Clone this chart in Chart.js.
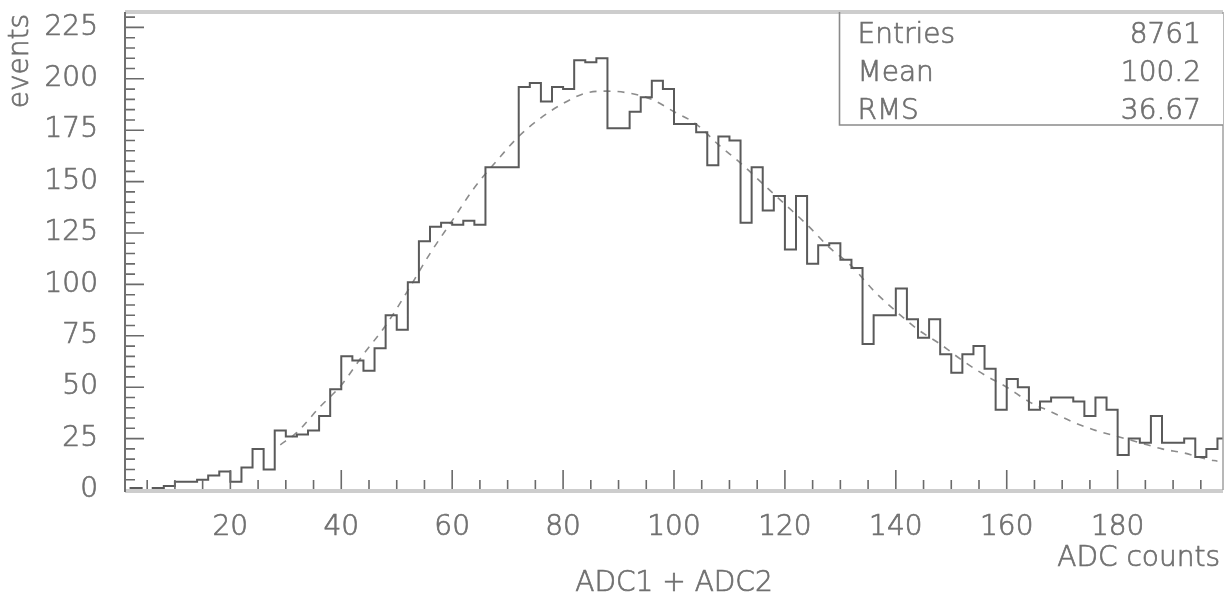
<!DOCTYPE html>
<html>
<head>
<meta charset="utf-8">
<script src="https://cdn.jsdelivr.net/npm/chart.js@4/dist/chart.umd.min.js"></script>
<style>
  html, body { margin: 0; padding: 0; background: #ffffff; }
  #c { display: block; }
</style>
</head>
<body>
<canvas id="c" width="1228" height="596"></canvas>
<script>
// Histogram binning: 100 bins of width 2 starting at 0
const binStart = 0;
const binWidth = 2;

// Events per bin (ADC1 + ADC2)
const binCounts = [
  0, 1, 0, 1, 2, 4, 4, 5, 7, 9,
  4, 11, 20, 10, 29, 26, 27, 29, 36, 49,
  65, 63, 58, 69, 85, 78, 101, 121, 128, 130,
  129, 131, 129, 157, 157, 157, 196, 198, 189, 196,
  195, 209, 208, 210, 176, 176, 184, 191, 199, 195,
  178, 178, 174, 158, 172, 170, 130, 157, 136, 143,
  117, 143, 110, 119, 120, 112, 108, 71, 85, 85,
  98, 83, 74, 83, 66, 57, 66, 70, 59, 39,
  54, 50, 39, 43, 45, 45, 43, 36, 45, 39,
  17, 25, 23, 36, 23, 23, 25, 16, 20, 25
];

// Fitted curve, sampled points
const fitX = [29, 32, 36, 40, 44, 48, 52, 56, 60, 64, 68, 72, 76, 80, 84, 88, 92, 96, 100,
              104, 108, 112, 116, 120, 124, 128, 132, 136, 140, 144, 148, 152, 156, 160,
              164, 168, 172, 176, 180, 184, 188, 192, 196, 198];
const fitY = [22, 28, 40, 51, 66, 80, 97, 115, 131, 147, 160, 172, 181, 188, 193, 194, 193, 190, 184,
              178, 168, 159, 149, 139, 129, 118, 109, 97, 87, 78, 71, 63, 56, 50,
              43, 38, 33, 29, 26, 23, 20, 18, 15, 14];

// Axis ticks
const xTickLabels = [20, 40, 60, 80, 100, 120, 140, 160, 180];
const yTickLabels = [0, 25, 50, 75, 100, 125, 150, 175, 200, 225];

// Statistics box
const statNames = ['Entries', 'Mean', 'RMS'];
const statValues = ['8761', '100.2', '36.67'];

const xRange = [1, 199];
const yRange = [0, 232.5];

const FONT = '"DejaVu Sans", "Liberation Sans", sans-serif';
const WEIGHT = 300;
const SIZE = 28;
const TEXT = '#707070';
const TEXT_STROKE = 0.7;

const histPoints = binCounts.map((v, i) => ({ x: binStart + binWidth * (i + 0.5), y: v }));
const fitPoints = fitX.map((x, i) => ({ x: x, y: fitY[i] }));

function label(ctx, str, px, py) {
  ctx.fillText(str, px, py);
  ctx.strokeText(str, px, py);
}

// Frame, inward tick marks, axis titles and statistics box
const decorations = {
  id: 'decorations',
  afterDatasetsDraw(chart) {
    const { ctx, chartArea: a, scales: { x, y } } = chart;
    ctx.save();

    // inward ticks on x axis
    ctx.strokeStyle = '#6a6a6a';
    ctx.lineWidth = 1.6;
    ctx.beginPath();
    for (let v = 5; v < xRange[1]; v += 5) {
      const px = x.getPixelForValue(v);
      const len = (v % 20 === 0) ? 20 : 10;
      ctx.moveTo(px, a.bottom);
      ctx.lineTo(px, a.bottom - len);
    }
    // inward ticks on y axis
    for (let v = 5; v < yRange[1]; v += 5) {
      const py = y.getPixelForValue(v);
      const len = (v % 25 === 0) ? 19 : 10;
      ctx.moveTo(a.left, py);
      ctx.lineTo(a.left + len, py);
    }
    ctx.stroke();

    // frame
    ctx.strokeStyle = '#cdcdcd';
    ctx.lineWidth = 4;
    ctx.beginPath();
    ctx.moveTo(a.left, a.top); ctx.lineTo(a.right, a.top);
    ctx.moveTo(a.left, a.bottom + 1); ctx.lineTo(a.right, a.bottom + 1);
    ctx.stroke();
    ctx.strokeStyle = '#a0a0a0';
    ctx.lineWidth = 1.5;
    ctx.beginPath();
    ctx.moveTo(a.right, a.top); ctx.lineTo(a.right, a.bottom);
    ctx.stroke();
    ctx.strokeStyle = '#707070';
    ctx.lineWidth = 2;
    ctx.beginPath();
    ctx.moveTo(a.left, a.top); ctx.lineTo(a.left, a.bottom + 2);
    ctx.stroke();

    // statistics box
    const bx = 839.5, by = a.top, bw = a.right - 839.5, bh = 113;
    ctx.fillStyle = '#ffffff';
    ctx.fillRect(bx, by + 2, bw, bh - 2);
    ctx.strokeStyle = '#8a8a8a';
    ctx.lineWidth = 1.6;
    ctx.beginPath();
    ctx.moveTo(bx, by); ctx.lineTo(bx, by + bh); ctx.lineTo(bx + bw, by + bh);
    ctx.stroke();

    ctx.fillStyle = TEXT;
    ctx.strokeStyle = TEXT;
    ctx.lineWidth = TEXT_STROKE;
    ctx.font = WEIGHT + ' ' + SIZE + 'px ' + FONT;
    ctx.textBaseline = 'alphabetic';
    statNames.forEach((n, i) => {
      const base = by + 31 + i * 38;
      ctx.textAlign = 'left';
      label(ctx, n, bx + 18, base);
      ctx.textAlign = 'right';
      label(ctx, statValues[i], bx + bw - 22, base);
    });

    // axis titles
    ctx.textAlign = 'right';
    label(ctx, 'ADC counts', 1220, 566);
    ctx.textAlign = 'center';
    label(ctx, 'ADC1 + ADC2', 674, 591);
    ctx.save();
    ctx.translate(28, a.top + 2);
    ctx.rotate(-Math.PI / 2);
    ctx.textAlign = 'right';
    label(ctx, 'events', 0, 0);
    ctx.restore();

    ctx.restore();
  }
};

new Chart(document.getElementById('c'), {
  type: 'scatter',
  data: {
    datasets: [
      {
        label: 'ADC1 + ADC2',
        data: histPoints,
        showLine: true,
        stepped: 'middle',
        borderColor: '#5a5a5a',
        borderWidth: 2,
        pointRadius: 0,
        fill: false
      },
      {
        label: 'fit',
        data: fitPoints,
        showLine: true,
        cubicInterpolationMode: 'monotone',
        borderColor: '#8c8c8c',
        borderWidth: 1.6,
        borderDash: [7, 7],
        pointRadius: 0,
        fill: false
      }
    ]
  },
  options: {
    responsive: false,
    animation: false,
    layout: { padding: { top: 12, right: 5, left: 0, bottom: 0 } },
    plugins: { legend: { display: false }, tooltip: { enabled: false } },
    scales: {
      x: {
        type: 'linear',
        min: xRange[0],
        max: xRange[1],
        grid: { display: false, drawTicks: false },
        border: { display: false },
        afterBuildTicks: (s) => { s.ticks = xTickLabels.map(v => ({ value: v })); },
        afterFit: (s) => { s.height = 106; s.paddingLeft = 0; s.paddingRight = 0; },
        ticks: {
          autoSkip: false,
          maxRotation: 0,
          padding: 21,
          color: TEXT,
          textStrokeColor: TEXT,
          textStrokeWidth: TEXT_STROKE,
          font: { family: FONT, size: SIZE, weight: WEIGHT },
          callback: (v) => String(v)
        }
      },
      y: {
        type: 'linear',
        min: yRange[0],
        max: yRange[1],
        grid: { display: false, drawTicks: false },
        border: { display: false },
        afterBuildTicks: (s) => { s.ticks = yTickLabels.map(v => ({ value: v })); },
        afterFit: (s) => { s.width = 125; s.paddingTop = 0; s.paddingBottom = 0; },
        ticks: {
          autoSkip: false,
          padding: 27,
          color: TEXT,
          textStrokeColor: TEXT,
          textStrokeWidth: TEXT_STROKE,
          font: { family: FONT, size: SIZE, weight: WEIGHT },
          callback: (v) => String(v)
        }
      }
    }
  },
  plugins: [decorations]
});
</script>
</body>
</html>
